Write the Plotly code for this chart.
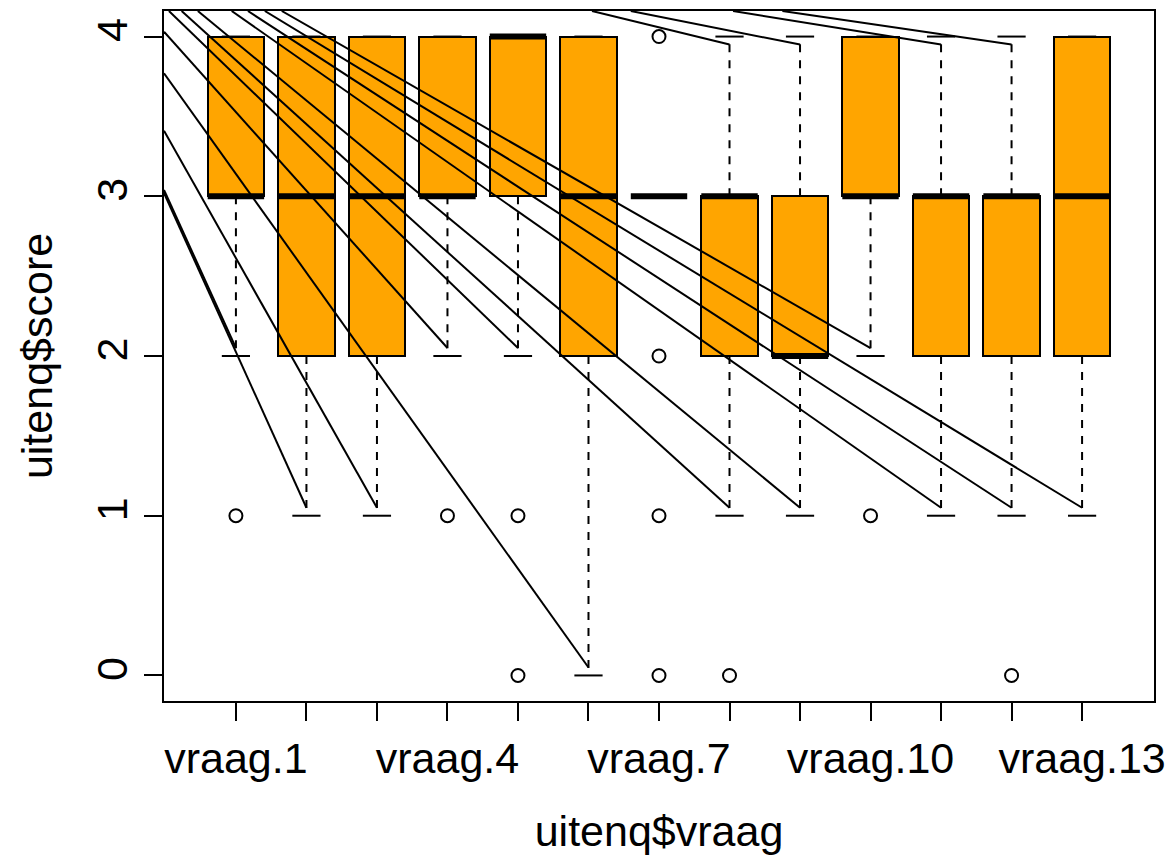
import plotly.graph_objects as go

# ---- data ----
categories = [f"vraag.{i}" for i in range(1, 14)]
positions = list(range(1, 14))
shown_labels = ["vraag.1", "", "", "vraag.4", "", "", "vraag.7", "", "", "vraag.10", "", "", "vraag.13"]

q1 = [3, 2, 2, 3, 3, 2, 3, 2, 2, 3, 2, 2, 2]
median = [3, 3, 3, 3, 4, 3, 3, 3, 2, 3, 3, 3, 3]
q3 = [4, 4, 4, 4, 4, 4, 3, 3, 3, 4, 3, 3, 4]
whisker_low = [2, 1, 1, 2, 2, 0, 3, 1, 1, 2, 1, 1, 1]
whisker_high = [4, 4, 4, 4, 4, 4, 3, 4, 4, 4, 4, 4, 4]

outlier_box = [1, 4, 5, 5, 7, 7, 7, 7, 8, 10, 12]
outlier_val = [1, 1, 1, 0, 4, 2, 1, 0, 0, 1, 0]

# stray straight lines: each runs from a start point (on the frame)
# to the end of one box's whisker
line_box = [1, 2, 3, 4, 5, 6, 8, 9, 10, 11, 12, 13, 8, 9, 11, 12]
line_side = ["low"] * 12 + ["high"] * 4
line_start_x = [-0.02, -0.02, -0.02, -0.02, 0.05, -0.02, 0.23, 0.46, 1.65, 0.94, 1.17, 1.41,
                6.05, 6.6, 8.05, 8.75]
line_start_y = [3.04, 3.02, 3.41, 4.03, 4.16, 3.77, 4.16, 4.16, 4.16, 4.16, 4.16, 4.16,
                4.16, 4.16, 4.16, 4.16]

BOX_W = 0.8
CAP_HALF = 0.2
END_GAP = 0.05
ORANGE = "#FFA500"
FONT = "Liberation Sans, Arial, sans-serif"
FS = 43

fig = go.Figure()

# boxes
fig.add_trace(go.Bar(
    x=positions, y=[b - a for a, b in zip(q1, q3)], base=q1, width=BOX_W,
    marker=dict(color=ORANGE, line=dict(color="black", width=2)),
    hoverinfo="skip", showlegend=False,
))

def seg_trace(xs, ys, width, dash="solid"):
    return go.Scatter(x=xs, y=ys, mode="lines", line=dict(color="black", width=width, dash=dash),
                      hoverinfo="skip", showlegend=False)

# whiskers (dashed)
wx, wy = [], []
for p, a, b, lo, hi in zip(positions, q1, q3, whisker_low, whisker_high):
    if lo < a:
        wx += [p, p, None]; wy += [a, lo, None]
    if hi > b:
        wx += [p, p, None]; wy += [b, hi, None]
fig.add_trace(seg_trace(wx, wy, 2, dash="8px,8px"))

# staples
cx, cy = [], []
for p, lo, hi in zip(positions, whisker_low, whisker_high):
    cx += [p - CAP_HALF, p + CAP_HALF, None, p - CAP_HALF, p + CAP_HALF, None]
    cy += [lo, lo, None, hi, hi, None]
fig.add_trace(seg_trace(cx, cy, 2))

# medians
mx, my = [], []
for p, m in zip(positions, median):
    mx += [p - BOX_W / 2, p + BOX_W / 2, None]; my += [m, m, None]
fig.add_trace(seg_trace(mx, my, 6))

# stray lines
lx, ly = [], []
for b, side, sx, sy in zip(line_box, line_side, line_start_x, line_start_y):
    i = b - 1
    if side == "low":
        ey = whisker_low[i] + END_GAP
    else:
        ey = whisker_high[i] - END_GAP
    lx += [sx, positions[i], None]; ly += [sy, ey, None]
fig.add_trace(seg_trace(lx, ly, 2))

# outliers
fig.add_trace(go.Scatter(
    x=outlier_box, y=outlier_val, mode="markers",
    marker=dict(symbol="circle-open", size=13, color="black", line=dict(width=2)),
    hoverinfo="skip", showlegend=False,
))

fig.update_layout(
    width=1159, height=847,
    margin=dict(l=156, r=11, t=1, b=154),
    paper_bgcolor="white", plot_bgcolor="white",
    font=dict(family=FONT, color="black", size=FS),
    bargap=0,
    xaxis=dict(
        range=[-0.02, 14.02], tickmode="array", tickvals=positions, ticktext=shown_labels,
        ticks="outside", ticklen=18, tickwidth=2, tickcolor="black",
        ticklabeloverflow="allow",
        showline=True, mirror=True, linecolor="black", linewidth=2,
        showgrid=False, zeroline=False, tickfont=dict(size=FS, family=FONT),
        title=dict(text="uitenq$vraag", font=dict(size=FS, family=FONT), standoff=36),
    ),
    yaxis=dict(
        range=[-0.16, 4.16], tickmode="array", tickvals=[0, 1, 2, 3, 4],
        ticktext=["0", "1", "2", "3", "4"], tickangle=-90,
        ticks="outside", ticklen=18, tickwidth=2, tickcolor="black",
        showline=True, mirror=True, linecolor="black", linewidth=2,
        showgrid=False, zeroline=False, tickfont=dict(size=FS, family=FONT),
        title=dict(text="uitenq$score", font=dict(size=FS, family=FONT), standoff=22),
    ),
)

fig.write_html("out.html")
